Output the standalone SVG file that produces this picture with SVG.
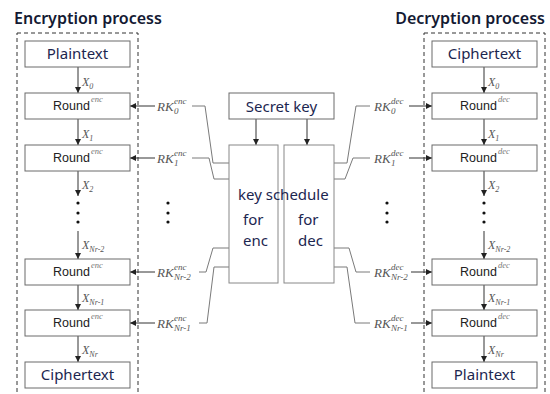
<svg xmlns="http://www.w3.org/2000/svg" width="550" height="394" viewBox="0 0 550 394">
  <defs>
    <marker id="arrow" markerUnits="userSpaceOnUse" markerWidth="6" markerHeight="6" refX="6" refY="3" orient="auto">
      <path d="M0,0 L6,3 L0,6 z" fill="#222"/>
    </marker>
    <style>
      .title { font-family: "Noto Sans", "DejaVu Sans", sans-serif; font-size: 16px; font-weight: 600; fill: #141a33; }
      .frame { fill: none; stroke: #333; stroke-width: 1; stroke-dasharray: 4 3; }
      .box { fill: #fff; stroke: #6a6a6a; stroke-width: 1; }
      .ks { fill: #fff; stroke: #888; stroke-width: 1; }
      .io { font-family: "Noto Sans", "DejaVu Sans", sans-serif; font-size: 15px; fill: #1c2650; text-anchor: middle; }
      .ksText { font-family: "Noto Sans", "DejaVu Sans", sans-serif; font-size: 15px; fill: #1c2650; }
      .rnd { font-family: "Liberation Sans", Arial, sans-serif; font-size: 12.5px; fill: #222; }
      .rsup { font-family: "Liberation Serif", "Times New Roman", serif; font-style: italic; font-size: 8.5px; fill: #777; }
      .var { font-family: "Liberation Serif", "Times New Roman", serif; font-style: italic; font-size: 13px; fill: #555; }
      .small { font-size: 9px; }
      .xv { font-family: "Liberation Serif", "Times New Roman", serif; font-style: italic; font-size: 12px; fill: #555; }
      .xs { font-size: 8px; }
      .flow { stroke: #333; stroke-width: 1; fill: none; marker-end: url(#arrow); }
      .wire { stroke: #7a7a7a; stroke-width: 1; fill: none; }
      .dot { fill: #111; }
    </style>
  </defs>

  <!-- section headings and dashed frames -->
  <text class="title" x="14" y="24">Encryption process</text>
  <text class="title" x="545" y="24" text-anchor="end">Decryption process</text>
  <rect class="frame" x="17" y="33" width="121" height="370"/>
  <rect class="frame" x="424" y="33" width="121" height="370"/>

  <!-- connectors -->
  <g id="connectors">
    <!-- encryption data path -->
    <line class="flow" x1="78" y1="67" x2="78" y2="93"/>
    <line class="flow" x1="78" y1="119" x2="78" y2="145"/>
    <line class="flow" x1="78" y1="171" x2="78" y2="196"/>
    <line class="flow" x1="78" y1="231" x2="78" y2="259"/>
    <line class="flow" x1="78" y1="285" x2="78" y2="310"/>
    <line class="flow" x1="78" y1="336" x2="78" y2="362"/>
    <!-- decryption data path -->
    <line class="flow" x1="484" y1="67" x2="484" y2="93"/>
    <line class="flow" x1="484" y1="119" x2="484" y2="145"/>
    <line class="flow" x1="484" y1="171" x2="484" y2="196"/>
    <line class="flow" x1="484" y1="231" x2="484" y2="259"/>
    <line class="flow" x1="484" y1="285" x2="484" y2="310"/>
    <line class="flow" x1="484" y1="336" x2="484" y2="362"/>
    <!-- secret key into both schedules -->
    <line class="flow" x1="256" y1="119" x2="256" y2="145"/>
    <line class="flow" x1="307" y1="119" x2="307" y2="145"/>
    <!-- round keys into encryption rounds -->
    <line class="flow" x1="155" y1="106" x2="130" y2="106"/>
    <line class="flow" x1="155" y1="158" x2="130" y2="158"/>
    <line class="flow" x1="155" y1="272" x2="130" y2="272"/>
    <line class="flow" x1="155" y1="323" x2="130" y2="323"/>
    <!-- round keys into decryption rounds -->
    <line class="flow" x1="409" y1="106" x2="432" y2="106"/>
    <line class="flow" x1="409" y1="158" x2="432" y2="158"/>
    <line class="flow" x1="411" y1="272" x2="432" y2="272"/>
    <line class="flow" x1="411" y1="323" x2="432" y2="323"/>
    <!-- schedule outputs (encryption side) -->
    <path class="wire" d="M192,106 H205 L213,163 H229"/>
    <path class="wire" d="M192,158 H209 L214,179 H229"/>
    <path class="wire" d="M199,272 H206 L213,248 H229"/>
    <path class="wire" d="M199,323 H207 L214,267 H229"/>
    <!-- schedule outputs (decryption side) -->
    <path class="wire" d="M334,163 H347 L356,106 H370"/>
    <path class="wire" d="M334,179 H345 L353,158 H370"/>
    <path class="wire" d="M334,248 H349 L356,272 H370"/>
    <path class="wire" d="M334,267 H347 L355,323 H370"/>
  </g>

  <!-- encryption column -->
  <g id="enc-plaintext">
    <rect class="box" x="25" y="41" width="105" height="26"/>
    <text class="io" x="77.5" y="59">Plaintext</text>
  </g>
  <g id="enc-round-0">
    <rect class="box" x="25" y="93" width="105" height="26"/>
    <text class="rnd" x="53" y="110">Round</text><text class="rsup" x="91" y="102">enc</text>
  </g>
  <g id="enc-round-1">
    <rect class="box" x="25" y="145" width="105" height="26"/>
    <text class="rnd" x="53" y="162">Round</text><text class="rsup" x="91" y="154">enc</text>
  </g>
  <g id="enc-round-nr2">
    <rect class="box" x="25" y="259" width="105" height="26"/>
    <text class="rnd" x="53" y="276">Round</text><text class="rsup" x="91" y="268">enc</text>
  </g>
  <g id="enc-round-nr1">
    <rect class="box" x="25" y="310" width="105" height="26"/>
    <text class="rnd" x="53" y="327">Round</text><text class="rsup" x="91" y="319">enc</text>
  </g>
  <g id="enc-ciphertext">
    <rect class="box" x="25" y="362" width="105" height="26"/>
    <text class="io" x="77.5" y="380">Ciphertext</text>
  </g>

  <!-- decryption column -->
  <g id="dec-ciphertext">
    <rect class="box" x="432" y="41" width="105" height="26"/>
    <text class="io" x="484.5" y="59">Ciphertext</text>
  </g>
  <g id="dec-round-0">
    <rect class="box" x="432" y="93" width="105" height="26"/>
    <text class="rnd" x="460" y="110">Round</text><text class="rsup" x="498" y="102">dec</text>
  </g>
  <g id="dec-round-1">
    <rect class="box" x="432" y="145" width="105" height="26"/>
    <text class="rnd" x="460" y="162">Round</text><text class="rsup" x="498" y="154">dec</text>
  </g>
  <g id="dec-round-nr2">
    <rect class="box" x="432" y="259" width="105" height="26"/>
    <text class="rnd" x="460" y="276">Round</text><text class="rsup" x="498" y="268">dec</text>
  </g>
  <g id="dec-round-nr1">
    <rect class="box" x="432" y="310" width="105" height="26"/>
    <text class="rnd" x="460" y="327">Round</text><text class="rsup" x="498" y="319">dec</text>
  </g>
  <g id="dec-plaintext">
    <rect class="box" x="432" y="362" width="105" height="26"/>
    <text class="io" x="484.5" y="380">Plaintext</text>
  </g>

  <!-- key material -->
  <g id="secret-key">
    <rect class="box" x="229" y="93" width="105" height="26"/>
    <text class="io" x="281.5" y="112">Secret key</text>
  </g>
  <g id="key-schedule-enc">
    <rect class="ks" x="229" y="145" width="49" height="138"/>
    <text class="ksText" x="243" y="225">for</text>
    <text class="ksText" x="243" y="246">enc</text>
  </g>
  <g id="key-schedule-dec">
    <rect class="ks" x="284" y="145" width="50" height="138"/>
    <text class="ksText" x="298" y="225">for</text>
    <text class="ksText" x="298" y="246">dec</text>
  </g>
  <text class="ksText" x="238" y="200">key schedule</text>

  <!-- intermediate states -->
  <g id="state-labels">
    <text class="xv" x="82" y="86">X<tspan class="xs" dy="3">0</tspan></text>
    <text class="xv" x="82" y="138">X<tspan class="xs" dy="3">1</tspan></text>
    <text class="xv" x="82" y="189">X<tspan class="xs" dy="3">2</tspan></text>
    <text class="xv" x="82" y="249">X<tspan class="xs" dy="3">Nr-2</tspan></text>
    <text class="xv" x="82" y="302">X<tspan class="xs" dy="3">Nr-1</tspan></text>
    <text class="xv" x="82" y="354">X<tspan class="xs" dy="3">Nr</tspan></text>
    <text class="xv" x="488" y="86">X<tspan class="xs" dy="3">0</tspan></text>
    <text class="xv" x="488" y="138">X<tspan class="xs" dy="3">1</tspan></text>
    <text class="xv" x="488" y="189">X<tspan class="xs" dy="3">2</tspan></text>
    <text class="xv" x="488" y="249">X<tspan class="xs" dy="3">Nr-2</tspan></text>
    <text class="xv" x="488" y="302">X<tspan class="xs" dy="3">Nr-1</tspan></text>
    <text class="xv" x="488" y="354">X<tspan class="xs" dy="3">Nr</tspan></text>
  </g>

  <!-- round key labels -->
  <g id="round-keys">
    <text class="var" x="157" y="111">RK<tspan class="small" x="174" y="104">enc</tspan><tspan class="small" x="174" y="114">0</tspan></text>
    <text class="var" x="157" y="163">RK<tspan class="small" x="174" y="156">enc</tspan><tspan class="small" x="174" y="166">1</tspan></text>
    <text class="var" x="157" y="277">RK<tspan class="small" x="174" y="270">enc</tspan><tspan class="small" x="174" y="280">Nr-2</tspan></text>
    <text class="var" x="157" y="328">RK<tspan class="small" x="174" y="321">enc</tspan><tspan class="small" x="174" y="331">Nr-1</tspan></text>
    <text class="var" x="374" y="111">RK<tspan class="small" x="391" y="104">dec</tspan><tspan class="small" x="391" y="114">0</tspan></text>
    <text class="var" x="374" y="163">RK<tspan class="small" x="391" y="156">dec</tspan><tspan class="small" x="391" y="166">1</tspan></text>
    <text class="var" x="374" y="277">RK<tspan class="small" x="391" y="270">dec</tspan><tspan class="small" x="391" y="280">Nr-2</tspan></text>
    <text class="var" x="374" y="328">RK<tspan class="small" x="391" y="321">dec</tspan><tspan class="small" x="391" y="331">Nr-1</tspan></text>
  </g>

  <!-- vertical ellipses -->
  <g id="ellipses">
    <circle class="dot" cx="78" cy="203" r="1.6"/><circle class="dot" cx="78" cy="213" r="1.6"/><circle class="dot" cx="78" cy="222" r="1.6"/>
    <circle class="dot" cx="168" cy="203" r="1.6"/><circle class="dot" cx="168" cy="213" r="1.6"/><circle class="dot" cx="168" cy="222" r="1.6"/>
    <circle class="dot" cx="387" cy="203" r="1.6"/><circle class="dot" cx="387" cy="213" r="1.6"/><circle class="dot" cx="387" cy="222" r="1.6"/>
    <circle class="dot" cx="484" cy="203" r="1.6"/><circle class="dot" cx="484" cy="213" r="1.6"/><circle class="dot" cx="484" cy="222" r="1.6"/>
  </g>
</svg>
